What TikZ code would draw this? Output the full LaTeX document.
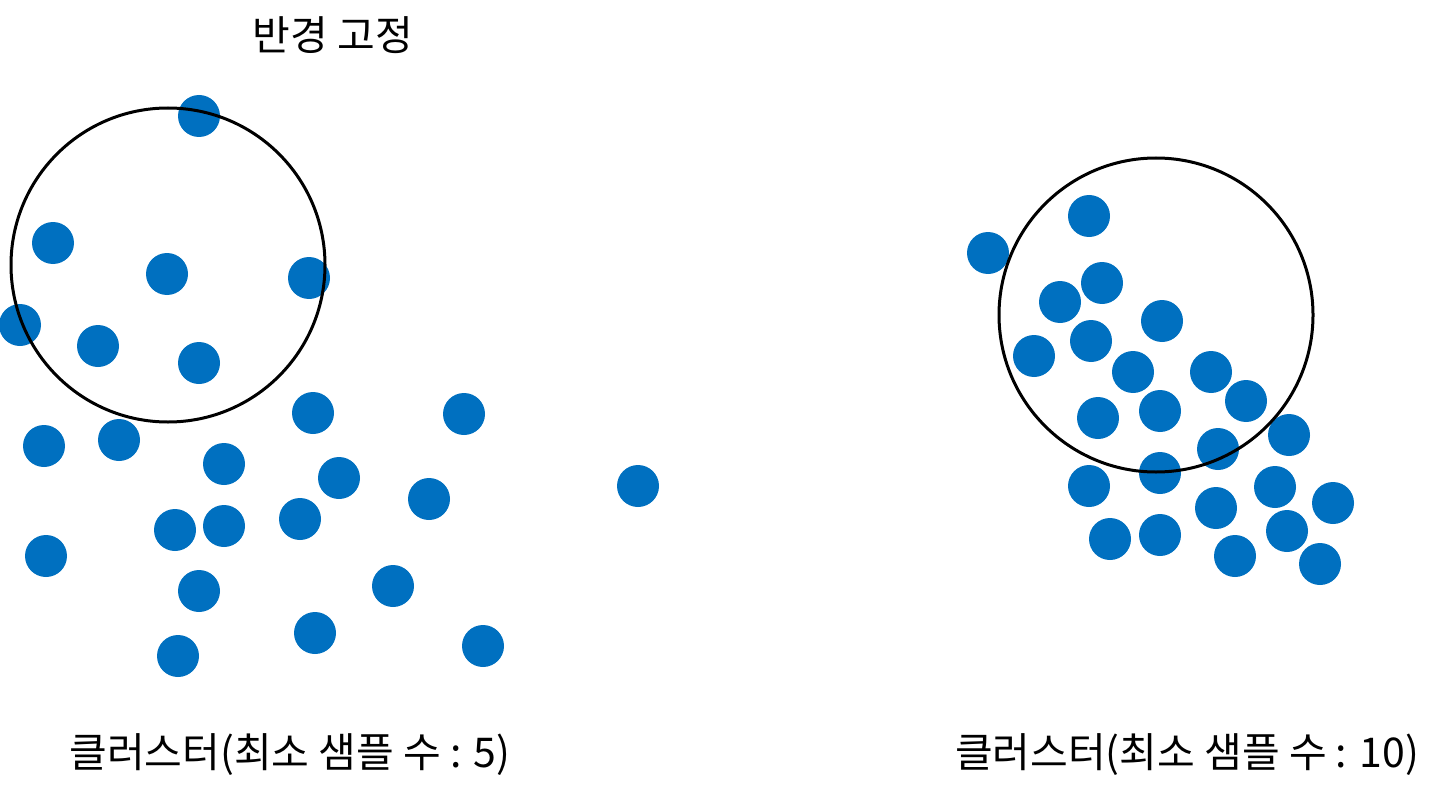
\documentclass[tikz,border=0pt]{standalone}
\usepackage{fontspec}
\newfontfamily\kofont{Noto Sans CJK KR}
\definecolor{dotblue}{HTML}{0070C0}
\usetikzlibrary{positioning}

\begin{document}
\begin{tikzpicture}[
        x=0.5pt, y=-0.5pt,
        dot/.style={circle, fill=dotblue, inner sep=0pt, minimum size=21pt},
        ring/.style={draw=black, line width=1.5pt},
        txt/.style={font=\kofont\fontsize{20.5}{24}\selectfont, inner sep=0pt}
    ]
        \useasboundingbox (0,0) rectangle (1443,802);

        % left cluster
        \foreach \px/\py in {199/116, 53/243, 167/274, 309/278, 20/325, 98/346,
                             199/363, 313/413, 464/414, 44/446, 119/440, 224/464,
                             339/478, 429/499, 638/486, 175/530, 224/526, 300/519,
                             46/556, 199/591, 393/586, 315/633, 178/656, 483/646}
            \node[dot] at (\px,\py) {};

        % right cluster
        \foreach \px/\py in {988/253, 1089/216, 1102/283, 1060/302, 1162/321, 1091/341,
                             1034/356, 1133/372, 1211/372, 1246/401, 1098/418, 1160/411,
                             1218/449, 1289/435, 1089/486, 1160/473, 1275/487, 1333/503,
                             1216/508, 1110/539, 1160/535, 1287/531, 1235/556, 1320/564}
            \node[dot] at (\px,\py) {};

        % fixed radius
        \draw[ring] (168,265) circle[radius=157];
        \draw[ring] (1156,315) circle[radius=157];

        \node[txt] (title) at (333,35) {반경 고정};
        \node[txt] (capleft) at (290,755) {클러스터(최소 샘플 수 : 5)};
        \node[txt] (capright) at (1187,755) {클러스터(최소 샘플 수 : 10)};
    \end{tikzpicture}
\end{document}
